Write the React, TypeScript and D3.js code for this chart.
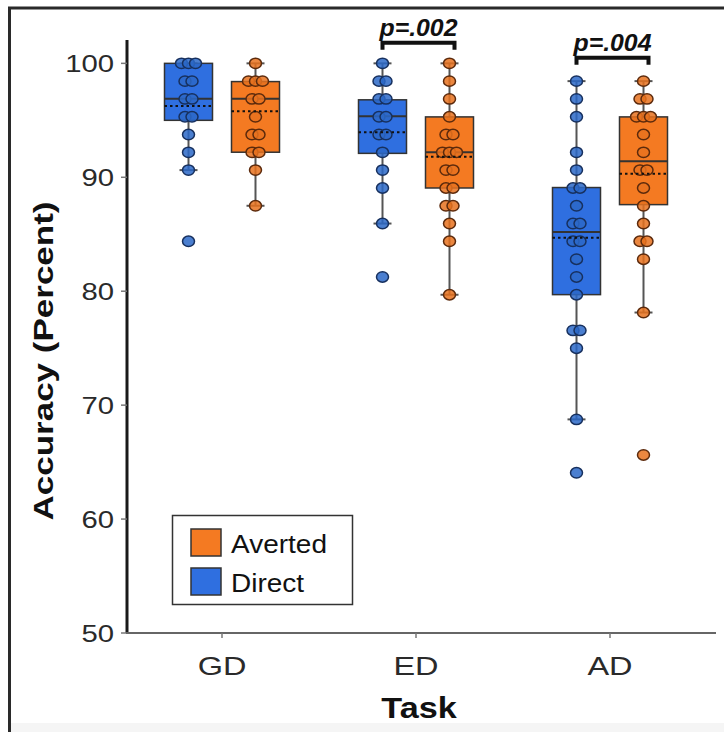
import React from "react";
import * as d3 from "d3";

// ---------- data ----------
const tasks = ["GD", "ED", "AD"];
const groups = ["Direct", "Averted"];
const legendOrder = ["Averted", "Direct"];
const yTicks = [50, 60, 70, 80, 90, 100];

// individual participant accuracies (percent)
const gdDirect = [100, 100, 100, 98.44, 98.44, 96.88, 96.88, 95.31, 95.31, 93.75, 92.19, 90.63, 84.38];
const gdAverted = [100, 98.44, 98.44, 98.44, 96.88, 96.88, 95.31, 93.75, 93.75, 92.19, 92.19, 90.63, 87.5];
const edDirect = [100, 98.44, 98.44, 96.88, 96.88, 95.31, 95.31, 93.75, 93.75, 92.19, 90.63, 89.06, 85.94, 81.25];
const edAverted = [100, 98.44, 96.88, 95.31, 93.75, 93.75, 92.19, 92.19, 92.19, 90.63, 90.63, 89.06, 89.06, 87.5, 87.5, 85.94, 84.38, 79.69];
const adDirect = [98.44, 96.88, 95.31, 92.19, 90.63, 89.06, 89.06, 87.5, 85.94, 85.94, 84.38, 84.38, 82.81, 81.25, 79.69, 76.56, 76.56, 75, 68.75, 64.06];
const adAverted = [98.44, 96.88, 96.88, 95.31, 95.31, 95.31, 93.75, 92.19, 90.63, 90.63, 89.06, 87.5, 85.94, 84.38, 84.38, 82.81, 78.13, 65.63];

// box statistics per task (GD, ED, AD)
const directQ1 = [95.0, 92.1, 79.7];
const directMedian = [96.9, 95.35, 85.2];
const directQ3 = [100, 96.8, 89.1];
const directLow = [90.63, 85.94, 68.75];
const directHigh = [100, 100, 98.44];
const directMean = [96.25, 93.95, 84.7];

const avertedQ1 = [92.2, 89.06, 87.6];
const avertedMedian = [96.9, 92.2, 91.4];
const avertedQ3 = [98.4, 95.3, 95.3];
const avertedLow = [87.5, 79.69, 78.13];
const avertedHigh = [100, 100, 98.44];
const avertedMean = [95.8, 91.8, 90.3];

// significance annotations
const sigTasks = ["ED", "AD"];
const sigLabels = ["p=.002", "p=.004"];
const sigLevels = [101.8, 100.5];

// ---------- styles ----------
const W = 724;
const H = 732;
const fill: Record<string, string> = { Direct: "#2f6fe0", Averted: "#f47a22" };
const dotFill: Record<string, string> = { Direct: "#2c68c8", Averted: "#e8721e" };
const dotStroke: Record<string, string> = { Direct: "#17305e", Averted: "#5c2a0c" };
const FONT = "'Liberation Sans', Arial, sans-serif";

type TProps = {
  x: number;
  y: number;
  sx?: number;
  rotate?: number;
  anchor?: "start" | "middle" | "end";
  size: number;
  bold?: boolean;
  italic?: boolean;
  dy?: string;
  color?: string;
  children: React.ReactNode;
};

function T({ x, y, sx = 1, rotate = 0, anchor = "start", size, bold, italic, dy, color = "#1e1e1e", children }: TProps) {
  return (
    <text
      transform={`translate(${x},${y}) rotate(${rotate}) scale(${sx},1)`}
      textAnchor={anchor}
      dy={dy}
      fontFamily={FONT}
      fontSize={size}
      fontWeight={bold ? "bold" : "normal"}
      fontStyle={italic ? "italic" : "normal"}
      fill={color}
    >
      {children}
    </text>
  );
}

export default function App() {
  const x = d3.scalePoint<string>().domain(tasks).range([125, 707]).padding(0.5);
  const y = d3.scaleLinear().domain([50, 102.05]).range([633, 40]);
  const dodge = d3.scalePoint<string>().domain(groups).range([-33.5, 33.5]);
  const boxW = 48;
  const capW = 18;

  const points: Record<string, Record<string, number[]>> = {
    GD: { Direct: gdDirect, Averted: gdAverted },
    ED: { Direct: edDirect, Averted: edAverted },
    AD: { Direct: adDirect, Averted: adAverted },
  };
  const stats = (g: string, i: number) =>
    g === "Direct"
      ? { q1: directQ1[i], med: directMedian[i], q3: directQ3[i], lo: directLow[i], hi: directHigh[i], mean: directMean[i] }
      : { q1: avertedQ1[i], med: avertedMedian[i], q3: avertedQ3[i], lo: avertedLow[i], hi: avertedHigh[i], mean: avertedMean[i] };

  const jitter = (vals: number[]) => {
    const counts = d3.rollup(vals, (v) => v.length, (d) => d);
    const seen = new Map<number, number>();
    return vals.map((v) => {
      const n = counts.get(v) || 1;
      const k = seen.get(v) || 0;
      seen.set(v, k + 1);
      return { v, dx: (k - (n - 1) / 2) * 7 };
    });
  };

  return (
    <svg width={W} height={H} style={{ position: "absolute", left: 0, top: 0, background: "#fff" }}>
      {/* outer frame */}
      <rect x={10} y={723} width={W - 10} height={H - 723} fill="#f5f5f5" />
      <path d={`M9.5,${H} V8 H${W}`} fill="none" stroke="#2a2a2a" strokeWidth={3} />

      {/* y axis */}
      <line x1={127} x2={127} y1={y(102.05)} y2={y(50)} stroke="#1a1a1a" strokeWidth={3} />
      {yTicks.map((t) => (
        <g key={t}>
          <line x1={121} x2={127} y1={y(t)} y2={y(t)} stroke="#777" strokeWidth={1.5} />
          <T x={114} y={y(t)} dy="0.36em" anchor="end" size={24} sx={1.22} color="#2a2a2a">
            {t}
          </T>
        </g>
      ))}
      <T x={53} y={361} rotate={-90} anchor="middle" size={28} sx={1.25} bold color="#111">
        Accuracy (Percent)
      </T>

      {/* x axis */}
      <line x1={126} x2={716} y1={y(50)} y2={y(50)} stroke="#666" strokeWidth={2} />
      {tasks.map((t) => (
        <g key={t}>
          <line x1={x(t)} x2={x(t)} y1={y(50)} y2={y(50) + 5} stroke="#777" strokeWidth={1.5} />
          <T x={x(t) as number} y={675} anchor="middle" size={26} sx={1.25} color="#2a2a2a">
            {t}
          </T>
        </g>
      ))}
      <T x={419} y={718} anchor="middle" size={30} sx={1.14} bold color="#111">
        Task
      </T>

      {/* boxes */}
      {tasks.map((t, i) =>
        groups.map((g) => {
          const s = stats(g, i);
          const cx = (x(t) as number) + (dodge(g) as number);
          return (
            <g key={t + g}>
              <line x1={cx} x2={cx} y1={y(s.lo)} y2={y(s.hi)} stroke="#555" strokeWidth={2} />
              <line x1={cx - capW / 2} x2={cx + capW / 2} y1={y(s.lo)} y2={y(s.lo)} stroke="#555" strokeWidth={2} />
              <line x1={cx - capW / 2} x2={cx + capW / 2} y1={y(s.hi)} y2={y(s.hi)} stroke="#555" strokeWidth={2} />
              <rect
                x={cx - boxW / 2}
                y={y(s.q3)}
                width={boxW}
                height={y(s.q1) - y(s.q3)}
                fill={fill[g]}
                stroke="#333"
                strokeWidth={1.5}
              />
              <line x1={cx - boxW / 2} x2={cx + boxW / 2} y1={y(s.med)} y2={y(s.med)} stroke="#333" strokeWidth={2} />
              {jitter(points[t][g]).map((p, k) => (
                <ellipse
                  key={k}
                  cx={cx + p.dx}
                  cy={y(p.v)}
                  rx={6}
                  ry={5.2}
                  fill={dotFill[g]}
                  fillOpacity={0.85}
                  stroke={dotStroke[g]}
                  strokeWidth={1.5}
                />
              ))}
              <line
                x1={cx - boxW / 2}
                x2={cx + boxW / 2}
                y1={y(s.mean)}
                y2={y(s.mean)}
                stroke="#111"
                strokeWidth={2}
                strokeDasharray="2.5,3"
              />
            </g>
          );
        })
      )}

      {/* significance brackets */}
      {sigTasks.map((t, i) => {
        const x0 = (x(t) as number) + (dodge("Direct") as number);
        const x1 = (x(t) as number) + (dodge("Averted") as number) + 5;
        const yy = y(sigLevels[i]);
        return (
          <g key={t}>
            <path d={`M${x0},${yy + 7} V${yy} H${x1} V${yy + 7}`} fill="none" stroke="#111" strokeWidth={4} />
            <T x={(x0 + x1) / 2} y={yy - 7} anchor="middle" size={23} sx={1.08} bold italic color="#111">
              {sigLabels[i]}
            </T>
          </g>
        );
      })}

      {/* legend */}
      <rect x={172.5} y={515.5} width={180} height={89} fill="#fff" stroke="#333" strokeWidth={1.5} />
      {legendOrder.map((g, i) => (
        <g key={g}>
          <rect x={191} y={529 + i * 39} width={30} height={27} fill={fill[g]} stroke="#333" strokeWidth={1.5} />
          <T x={231} y={553 + i * 39} size={25} sx={1.12} color="#111">
            {g}
          </T>
        </g>
      ))}
    </svg>
  );
}
